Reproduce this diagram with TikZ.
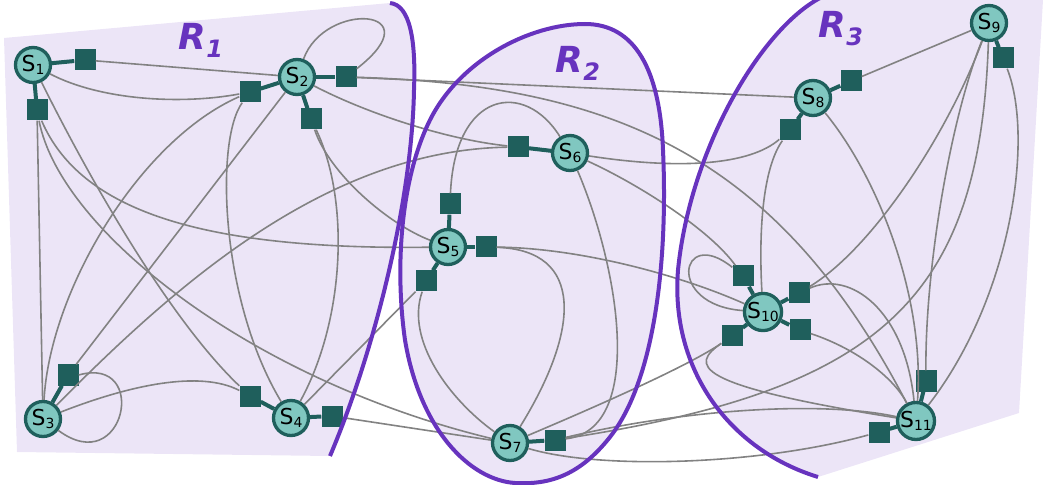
\documentclass[tikz,border=0pt]{standalone}
\usepackage{fontspec}
\setmainfont{DejaVu Sans}
\definecolor{lav}{RGB}{236,229,247}
\definecolor{purp}{RGB}{103,51,190}
\definecolor{dteal}{RGB}{31,95,92}
\definecolor{lteal}{RGB}{128,199,192}
\definecolor{edgegray}{RGB}{130,130,130}
\newcommand{\slab}[1]{\fontsize{22}{22}\selectfont S\raisebox{-3bp}{\fontsize{14}{14}\selectfont #1}}
\newcommand{\rlab}[1]{\fontsize{36}{36}\selectfont\bfseries\itshape R\raisebox{-8bp}{\fontsize{24}{24}\selectfont #1}}
\begin{document}
\begin{tikzpicture}[x=1bp,y=-1bp,
  snode/.style={circle,draw=dteal,fill=lteal,line width=3.3bp,minimum size=35bp,inner sep=0pt},
  sq/.style={rectangle,fill=dteal,minimum size=21bp,inner sep=0pt},
  link/.style={draw=dteal,line width=4bp},
  gline/.style={draw=edgegray,line width=1.6bp},
  region/.style={draw=purp,line width=4bp},
  rlabel/.style={text=purp,inner sep=0pt,anchor=base}]
\useasboundingbox (0,0) rectangle (1043,485);
% region fills
\fill[lav] (4,38) -- (390,3) .. controls (410,5) and (416,40) .. (414,90)
  .. controls (412,200) and (375,350) .. (330,456) -- (17,452) -- cycle;
\fill[lav] (585,24) .. controls (635,24) and (660,70) .. (663,150)
  .. controls (668,260) and (655,380) .. (610,437)
  .. controls (580,475) and (550,485) .. (515,483)
  .. controls (470,480) and (420,430) .. (405,340)
  .. controls (395,270) and (400,180) .. (430,120)
  .. controls (460,60) and (530,24) .. (585,24) -- cycle;
\fill[lav] (820,-2) .. controls (760,30) and (690,150) .. (678,270)
  .. controls (670,370) and (730,450) .. (818,477) -- (1019,413) -- (1043,0) -- cycle;
% nodes
\node[snode] (s1) at (33,65) {\slab{1}};
\node[snode] (s2) at (297,77) {\slab{2}};
\node[snode] (s3) at (43,419) {\slab{3}};
\node[snode] (s4) at (291,418) {\slab{4}};
\node[snode] (s5) at (448,247) {\slab{5}};
\node[snode] (s6) at (570,153) {\slab{6}};
\node[snode] (s7) at (510,443) {\slab{7}};
\node[snode] (s8) at (813,98) {\slab{8}};
\node[snode] (s9) at (989,23) {\slab{9}};
\node[snode] (s10) at (763,312) {\slab{10}};
\node[snode] (s11) at (916,421) {\slab{11}};
% squares
\node[sq] (q1r) at (85,60) {};
\node[sq] (q1b) at (37,110) {};
\node[sq] (q2l) at (250,92) {};
\node[sq] (q2r) at (346,77) {};
\node[sq] (q2b) at (311,119) {};
\node[sq] (q3) at (68,375) {};
\node[sq] (q4a) at (250,396) {};
\node[sq] (q4r) at (332,416) {};
\node[sq] (q5t) at (450,204) {};
\node[sq] (q5r) at (486,247) {};
\node[sq] (q5l) at (426,281) {};
\node[sq] (q6) at (518,147) {};
\node[sq] (q7) at (555,440) {};
\node[sq] (q8a) at (851,81) {};
\node[sq] (q8b) at (790,130) {};
\node[sq] (q9) at (1003,58) {};
\node[sq] (q10a) at (743,276) {};
\node[sq] (q10b) at (799,293) {};
\node[sq] (q10c) at (800,330) {};
\node[sq] (q10d) at (732,336) {};
\node[sq] (q11t) at (926,381) {};
\node[sq] (q11l) at (879,432) {};
% node-to-square links
\foreach \a/\b in {s1/q1r,s1/q1b,s2/q2l,s2/q2r,s2/q2b,s3/q3,s4/q4a,s4/q4r,
  s5/q5t,s5/q5r,s5/q5l,s6/q6,s7/q7,s8/q8a,s8/q8b,s9/q9,
  s10/q10a,s10/q10b,s10/q10c,s10/q10d,s11/q11t,s11/q11l}
  \draw[link] (\a) -- (\b);
% grey connectors
\draw[gline] (q1r) -- (s2);
\draw[gline] (s1) .. controls (100,100) and (180,105) .. (q2l);
\draw[gline] (s1) .. controls (90,180) and (170,320) .. (q4a);
\draw[gline] (q1b) -- (s3);
\draw[gline] (q1b) .. controls (60,230) and (250,380) .. (s7);
\draw[gline] (q1b) .. controls (80,210) and (200,250) .. (s5);
\draw[gline] (q2l) .. controls (140,140) and (50,290) .. (s3);
\draw[gline] (q2l) .. controls (215,140) and (220,300) .. (s4);
\draw[gline] (q2b) .. controls (350,200) and (345,320) .. (s4);
\draw[gline] (q2b) .. controls (330,175) and (390,225) .. (s5);
\draw[gline] (s2) -- (q3);
\draw[gline] (s2) .. controls (370,115) and (450,140) .. (q6);
\draw[gline] (s3) .. controls (180,280) and (330,150) .. (q6);
\draw[gline] (q3.east) .. controls (150,355) and (125,480) .. (s3);
\draw[gline] (s3) .. controls (130,385) and (200,370) .. (q4a);
\draw[gline] (s4) -- (q5l);
\draw[gline] (q4r) -- (s7);
\draw[gline] (s2) .. controls (325,0) and (435,8) .. (q2r);
\draw[gline] (q2r) -- (s8);
\draw[gline] (q2r) .. controls (620,85) and (780,160) .. (s11);
\draw[gline] (q5t) .. controls (455,90) and (525,80) .. (s6);
\draw[gline] (q5r) .. controls (580,248) and (680,275) .. (s10);
\draw[gline] (q5r) .. controls (585,250) and (580,330) .. (s7);
\draw[gline] (q5l) .. controls (405,340) and (450,400) .. (s7);
\draw[gline] (s6) .. controls (680,170) and (750,165) .. (q8b);
\draw[gline] (s6) .. controls (640,185) and (710,230) .. (q10a);
\draw[gline] (s6) .. controls (620,270) and (645,430) .. (q7);
\draw[gline] (s7) .. controls (600,405) and (690,365) .. (q10d);
\draw[gline] (s7) .. controls (600,470) and (760,465) .. (q11l);
\draw[gline] (q7) .. controls (880,390) and (980,300) .. (s9);
\draw[gline] (q7) .. controls (680,410) and (820,400) .. (s11);
\draw[gline] (q10d) .. controls (690,365) and (690,385) .. (s11);
\draw[gline] (q10a) .. controls (680,225) and (665,305) .. (s10);
\draw[gline] (s10) .. controls (758,220) and (765,165) .. (q8b);
\draw[gline] (q10b) .. controls (870,250) and (945,140) .. (s9);
\draw[gline] (q10b) .. controls (850,270) and (905,310) .. (s11);
\draw[gline] (q10c) .. controls (860,350) and (895,380) .. (s11);
\draw[gline] (s8) .. controls (880,180) and (925,300) .. (s11);
\draw[gline] (s9) .. controls (950,120) and (925,270) .. (q11t);
\draw[gline] (q9) .. controls (1035,140) and (1010,300) .. (s11);
\draw[gline] (q8a) -- (s9);
% region boundaries
\draw[region] (390,3) .. controls (410,5) and (416,40) .. (414,90)
  .. controls (412,200) and (375,350) .. (330,456);
\draw[region] (585,24) .. controls (635,24) and (660,70) .. (663,150)
  .. controls (668,260) and (655,380) .. (610,437)
  .. controls (580,475) and (550,485) .. (515,483)
  .. controls (470,480) and (420,430) .. (405,340)
  .. controls (395,270) and (400,180) .. (430,120)
  .. controls (460,60) and (530,24) .. (585,24) -- cycle;
\draw[region] (820,-2) .. controls (760,30) and (690,150) .. (678,270)
  .. controls (670,370) and (730,450) .. (818,477);
% region labels
\node[rlabel] (r1) at (201,50) {\rlab{1}};
\node[rlabel] (r2) at (578,73) {\rlab{2}};
\node[rlabel] (r3) at (841,38) {\rlab{3}};
\end{tikzpicture}
\end{document}
